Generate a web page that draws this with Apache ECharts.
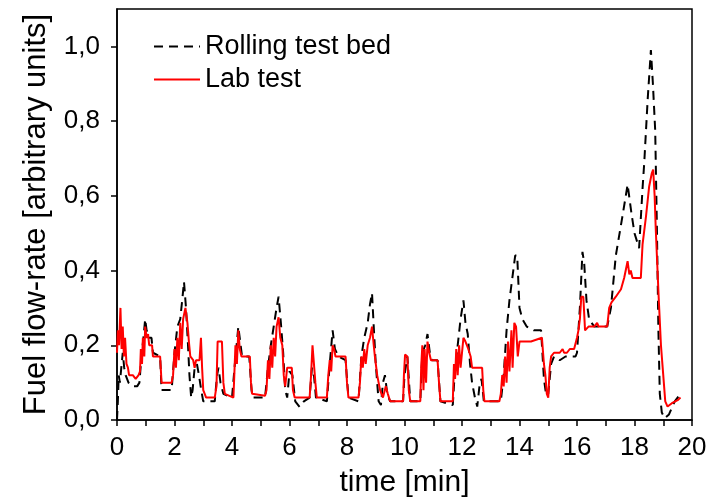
<!DOCTYPE html>
<html>
<head>
<meta charset="utf-8">
<script src="https://cdn.jsdelivr.net/npm/echarts@6/dist/echarts.min.js"></script>
<style>html,body{margin:0;padding:0;background:#fff}#c{width:716px;height:503px}</style>
</head>
<body>
<div id="c"></div>
<script>
// Lab test (red, solid): [time min, value]
const labTest = [
[0.00,0.18],[0.03,0.24],[0.07,0.20],[0.12,0.30],[0.16,0.19],[0.20,0.25],[0.24,0.17],[0.28,0.22],[0.33,0.15],[0.38,0.14],
[0.42,0.12],[0.55,0.12],[0.65,0.11],[0.75,0.12],[0.80,0.13],[0.83,0.19],[0.87,0.15],[0.90,0.22],[0.95,0.17],[0.98,0.25],
[1.03,0.22],[1.08,0.23],[1.12,0.20],[1.22,0.20],[1.25,0.17],[1.50,0.17],[1.55,0.10],[1.90,0.10],[1.95,0.12],[2.00,0.19],
[2.05,0.14],[2.10,0.22],[2.15,0.16],[2.20,0.26],[2.25,0.19],[2.30,0.27],[2.38,0.30],[2.45,0.26],[2.50,0.21],[2.55,0.17],
[2.65,0.16],[2.70,0.14],[2.75,0.16],[2.87,0.16],[2.92,0.22],[2.96,0.14],[3.00,0.08],[3.10,0.06],[3.40,0.06],[3.46,0.09],
[3.50,0.21],[3.65,0.21],[3.70,0.10],[3.75,0.07],[4.05,0.06],[4.08,0.12],[4.12,0.20],[4.17,0.15],[4.22,0.24],[4.27,0.19],
[4.33,0.17],[4.62,0.17],[4.66,0.10],[4.70,0.07],[5.15,0.065],[5.20,0.08],[5.25,0.16],[5.30,0.11],[5.35,0.20],[5.40,0.14],
[5.45,0.22],[5.50,0.17],[5.55,0.25],[5.62,0.275],[5.68,0.22],[5.75,0.20],[5.80,0.12],[5.85,0.09],[5.92,0.14],[6.08,0.14],
[6.12,0.08],[6.18,0.06],[6.70,0.06],[6.75,0.12],[6.80,0.20],[6.86,0.20],[6.90,0.10],[6.95,0.06],[7.30,0.06],[7.35,0.12],
[7.40,0.16],[7.45,0.13],[7.50,0.20],[7.55,0.19],[7.60,0.17],[7.95,0.17],[8.00,0.10],[8.05,0.06],[8.40,0.06],[8.45,0.10],
[8.50,0.17],[8.55,0.14],[8.60,0.19],[8.65,0.15],[8.72,0.20],[8.80,0.22],[8.87,0.25],[8.93,0.20],[8.97,0.17],[9.05,0.12],
[9.15,0.08],[9.25,0.06],[9.35,0.09],[9.42,0.07],[9.50,0.05],[9.95,0.05],[9.98,0.12],[10.02,0.175],[10.10,0.17],[10.15,0.08],
[10.20,0.05],[10.55,0.05],[10.58,0.14],[10.62,0.20],[10.66,0.08],[10.70,0.19],[10.75,0.10],[10.80,0.21],[10.86,0.18],[10.92,0.16],
[11.15,0.16],[11.20,0.10],[11.25,0.05],[11.68,0.05],[11.72,0.15],[11.76,0.11],[11.80,0.19],[11.85,0.12],[11.90,0.20],[11.95,0.14],
[12.05,0.22],[12.12,0.21],[12.22,0.19],[12.30,0.17],[12.35,0.14],[12.70,0.14],[12.74,0.08],[12.78,0.05],[13.30,0.05],[13.35,0.07],
[13.40,0.12],[13.45,0.09],[13.50,0.17],[13.55,0.10],[13.60,0.21],[13.65,0.13],[13.72,0.24],[13.76,0.14],[13.82,0.26],[13.88,0.25],
[13.94,0.17],[14.00,0.21],[14.40,0.21],[14.78,0.22],[14.85,0.15],[14.90,0.12],[14.95,0.07],[15.00,0.06],[15.05,0.14],[15.10,0.17],
[15.20,0.18],[15.40,0.18],[15.50,0.19],[15.55,0.18],[15.65,0.18],[15.75,0.19],[15.90,0.19],[15.95,0.19],[16.00,0.22],[16.05,0.24],
[16.10,0.27],[16.15,0.33],[16.22,0.33],[16.28,0.24],[16.40,0.25],[16.60,0.25],[16.70,0.26],[16.75,0.25],[17.05,0.25],[17.12,0.30],
[17.20,0.315],[17.35,0.33],[17.53,0.35],[17.64,0.38],[17.76,0.425],[17.82,0.39],[17.87,0.40],[17.93,0.38],[18.22,0.38],[18.28,0.47],
[18.40,0.545],[18.51,0.625],[18.60,0.66],[18.65,0.67],[18.70,0.60],[18.74,0.51],[18.84,0.33],[18.92,0.20],[19.00,0.12],[19.07,0.05],
[19.15,0.036],[19.30,0.045],[19.50,0.053],[19.60,0.06]
];
// Rolling test bed (black, dashed): [time min, value]
const rollingTestBed = [
[0.00,0.00],[0.03,0.05],[0.06,0.12],[0.10,0.10],[0.15,0.14],[0.20,0.18],[0.25,0.14],[0.30,0.12],[0.40,0.10],[0.55,0.09],
[0.70,0.09],[0.78,0.10],[0.85,0.17],[0.92,0.22],[0.98,0.27],[1.03,0.24],[1.10,0.22],[1.20,0.22],[1.25,0.18],[1.50,0.17],
[1.55,0.08],[1.90,0.08],[2.00,0.18],[2.10,0.25],[2.20,0.27],[2.28,0.33],[2.33,0.37],[2.40,0.30],[2.47,0.20],[2.52,0.12],
[2.58,0.06],[2.63,0.08],[2.70,0.14],[2.78,0.15],[2.85,0.12],[2.93,0.08],[3.00,0.05],[3.40,0.05],[3.48,0.12],[3.53,0.14],
[3.60,0.10],[3.70,0.07],[4.00,0.06],[4.10,0.15],[4.22,0.25],[4.30,0.20],[4.35,0.17],[4.60,0.17],[4.68,0.08],[4.72,0.06],
[5.15,0.06],[5.25,0.14],[5.35,0.20],[5.45,0.25],[5.55,0.30],[5.62,0.33],[5.70,0.26],[5.78,0.18],[5.85,0.08],[5.92,0.06],
[6.00,0.13],[6.10,0.12],[6.20,0.05],[6.35,0.035],[6.50,0.05],[6.70,0.06],[6.78,0.14],[6.85,0.12],[6.92,0.06],[7.30,0.05],
[7.40,0.15],[7.50,0.24],[7.58,0.19],[7.70,0.17],[7.95,0.16],[8.05,0.06],[8.40,0.05],[8.50,0.17],[8.60,0.22],[8.72,0.26],
[8.80,0.31],[8.87,0.34],[8.93,0.25],[9.00,0.15],[9.10,0.05],[9.18,0.04],[9.25,0.10],[9.32,0.12],[9.40,0.07],[9.50,0.05],
[9.95,0.05],[10.00,0.12],[10.10,0.17],[10.20,0.05],[10.55,0.05],[10.62,0.18],[10.72,0.20],[10.80,0.23],[10.88,0.18],[10.95,0.16],
[11.15,0.16],[11.25,0.05],[11.68,0.04],[11.75,0.13],[11.85,0.20],[11.95,0.27],[12.05,0.32],[12.12,0.26],[12.20,0.23],[12.28,0.15],
[12.35,0.10],[12.45,0.06],[12.53,0.036],[12.62,0.10],[12.68,0.11],[12.76,0.05],[13.35,0.05],[13.45,0.12],[13.55,0.24],[13.65,0.32],
[13.75,0.38],[13.85,0.44],[13.92,0.44],[14.00,0.30],[14.10,0.27],[14.25,0.25],[14.50,0.24],[14.75,0.24],[14.85,0.11],[14.93,0.065],
[15.00,0.07],[15.10,0.15],[15.20,0.17],[15.40,0.16],[15.60,0.17],[15.95,0.17],[16.00,0.18],[16.10,0.30],[16.19,0.45],[16.25,0.42],
[16.33,0.32],[16.42,0.27],[16.60,0.25],[17.05,0.25],[17.18,0.30],[17.35,0.44],[17.58,0.545],[17.76,0.63],[17.90,0.55],[18.00,0.50],
[18.16,0.46],[18.28,0.62],[18.34,0.69],[18.46,0.86],[18.57,0.99],[18.64,0.90],[18.72,0.775],[18.78,0.51],[18.83,0.245],[18.88,0.07],
[18.95,0.02],[19.05,0.005],[19.20,0.015],[19.40,0.05],[19.60,0.07]
];
const xTicks = [0,2,4,6,8,10,12,14,16,18,20];
const yTicks = [0,0.2,0.4,0.6,0.8,1.0];
const seriesNames = ['Rolling test bed','Lab test'];
const xTitle = 'time [min]';
const yTitle = 'Fuel flow-rate [arbitrary units]';

const FONT = '"Liberation Sans", Arial, sans-serif';
const chart = echarts.init(document.getElementById('c'), null, {renderer:'canvas'});
chart.setOption({
  backgroundColor:'#fff',
  animation:false,
  grid:{left:117, right:24, top:9, bottom:81, show:true, borderColor:'#000', borderWidth:1.5, backgroundColor:'transparent'},
  legend:{
    orient:'vertical', left:148, top:28, itemWidth:46, itemHeight:14, itemGap:6,
    data:seriesNames,
    itemStyle:{opacity:0},
    textStyle:{fontFamily:FONT, fontSize:27, color:'#000'}
  },
  xAxis:{
    type:'value', min:xTicks[0], max:xTicks[xTicks.length-1], interval:2,
    name:xTitle, nameLocation:'middle', nameGap:48,
    nameTextStyle:{fontFamily:FONT, fontSize:30, color:'#000'},
    axisLine:{lineStyle:{color:'#000', width:1.5}},
    axisTick:{length:6, lineStyle:{color:'#000', width:1.5}},
    minorTick:{show:true, splitNumber:2, length:6, lineStyle:{color:'#000', width:1.5}},
    axisLabel:{fontFamily:FONT, fontSize:26, color:'#000', margin:15},
    splitLine:{show:false}
  },
  yAxis:{
    type:'value', min:0, max:1.1, interval:0.2,
    name:yTitle, nameLocation:'middle', nameGap:65,
    nameTextStyle:{fontFamily:FONT, fontSize:31, color:'#000'},
    axisLine:{show:true, lineStyle:{color:'#000', width:1.5}},
    axisTick:{show:true, length:6, customValues:yTicks, lineStyle:{color:'#000', width:1.5}},
    axisLabel:{fontFamily:FONT, fontSize:26, color:'#000', margin:17, customValues:yTicks,
      formatter:v => v.toFixed(1).replace('.', ',')},
    splitLine:{show:false}
  },
  series:[
    {name:seriesNames[0], type:'line', data:rollingTestBed, symbol:'none', z:2,
     lineStyle:{color:'#000', width:2, type:[9,6]}, itemStyle:{color:'#000'}},
    {name:seriesNames[1], type:'line', data:labTest, symbol:'none', z:3,
     lineStyle:{color:'#ff0000', width:2}, itemStyle:{color:'#ff0000'}}
  ]
});
</script>
</body>
</html>
